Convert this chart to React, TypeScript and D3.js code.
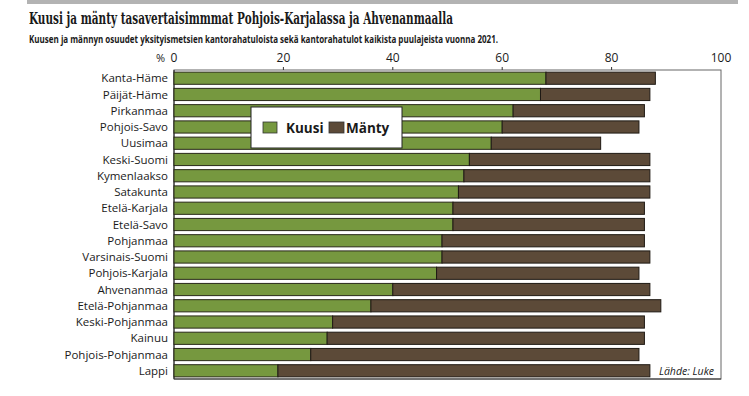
import React from "react";
import * as d3 from "d3";

const regions = [
  "Kanta-Häme", "Päijät-Häme", "Pirkanmaa", "Pohjois-Savo", "Uusimaa",
  "Keski-Suomi", "Kymenlaakso", "Satakunta", "Etelä-Karjala", "Etelä-Savo",
  "Pohjanmaa", "Varsinais-Suomi", "Pohjois-Karjala", "Ahvenanmaa",
  "Etelä-Pohjanmaa", "Keski-Pohjanmaa", "Kainuu", "Pohjois-Pohjanmaa", "Lappi",
];
const kuusi = [68, 67, 62, 60, 58, 54, 53, 52, 51, 51, 49, 49, 48, 40, 36, 29, 28, 25, 19];
const manty = [20, 20, 24, 25, 20, 33, 34, 35, 35, 35, 37, 38, 37, 47, 53, 57, 58, 60, 68];
const xTicks = [0, 20, 40, 60, 80, 100];
const seriesNames = ["Kuusi", "Mänty"];

const GREEN = "#76983f";
const BROWN = "#5c4a38";

export default function App() {
  const W = 749, H = 396;
  const left = 174, right = 721, top = 70, bottom = 379;
  const x = d3.scaleLinear().domain([0, 100]).range([left, right]);
  const y = d3.scaleBand<string>().domain(regions).range([top, bottom]).paddingInner(0.25).paddingOuter(0.13);
  const bh = y.bandwidth();
  const sans = "'Open Sans', 'DejaVu Sans', sans-serif";
  return (
    <svg width={W} height={H} style={{ position: "absolute", left: 0, top: 0, background: "#fff" }}>
      <rect x={27} y={0} width={711} height={4} fill="#b3b3b3" />
      <text x={29} y={24} fontFamily="'DejaVu Serif', serif" fontWeight="bold" fontSize={17}
        textLength={424} lengthAdjust="spacingAndGlyphs" fill="#1a1a1a">
        Kuusi ja mänty tasavertaisimmmat Pohjois-Karjalassa ja Ahvenanmaalla
      </text>
      <text x={29} y={43} fontFamily={sans} fontWeight="bold" fontSize={11}
        textLength={469} lengthAdjust="spacingAndGlyphs" fill="#1a1a1a">
        Kuusen ja männyn osuudet yksityismetsien kantorahatuloista sekä kantorahatulot kaikista puulajeista vuonna 2021.
      </text>
      {/* frame */}
      <rect x={left} y={top} width={right - left} height={bottom - top} fill="none" stroke="#666" strokeWidth={1} />
      <line x1={left} x2={left} y1={top} y2={bottom} stroke="#222" strokeWidth={1} />
      <line x1={left} x2={right} y1={bottom} y2={bottom} stroke="#333" strokeWidth={1} />
      {xTicks.map((t) => (
        <g key={t}>
          {t > 0 && t < 100 && <line x1={x(t)} x2={x(t)} y1={top - 3} y2={top} stroke="#333" />}
          <text x={x(t)} y={62} textAnchor="middle" fontFamily={sans} fontSize={12} fill="#1a1a1a"
            dx={t === 0 ? 0 : 0}>{t}</text>
        </g>
      ))}
      <text x={165} y={62} textAnchor="end" fontFamily={sans} fontSize={11} fill="#1a1a1a">%</text>
      {regions.map((r, i) => {
        const yy = y(r)!;
        return (
          <g key={r}>
            <text x={168} y={yy + bh / 2} dy="0.36em" textAnchor="end" fontFamily={sans} fontSize={11.5} fill="#1a1a1a">{r}</text>
            <rect x={x(0)} y={yy} width={x(kuusi[i]) - x(0)} height={bh} fill={GREEN} stroke="#2a2a1a" strokeWidth={1} />
            <rect x={x(kuusi[i])} y={yy} width={x(kuusi[i] + manty[i]) - x(kuusi[i])} height={bh} fill={BROWN} stroke="#1f1a14" strokeWidth={1} />
          </g>
        );
      })}
      {/* legend */}
      <rect x={251} y={107} width={151} height={41} fill="#fff" stroke="#222" strokeWidth={1} />
      <rect x={263} y={122} width={14} height={11} fill={GREEN} stroke="#333" strokeWidth={0.8} />
      <text x={286} y={133} fontFamily={sans} fontWeight="bold" fontSize={13.5} fill="#1a1a1a">{seriesNames[0]}</text>
      <rect x={329} y={122} width={15} height={11} fill={BROWN} stroke="#333" strokeWidth={0.8} />
      <text x={346} y={133} fontFamily={sans} fontWeight="bold" fontSize={13.5} fill="#1a1a1a">{seriesNames[1]}</text>
      <text x={714} y={375} textAnchor="end" fontFamily={sans} fontStyle="italic" fontSize={10.5} fill="#1a1a1a">Lähde: Luke</text>
    </svg>
  );
}
